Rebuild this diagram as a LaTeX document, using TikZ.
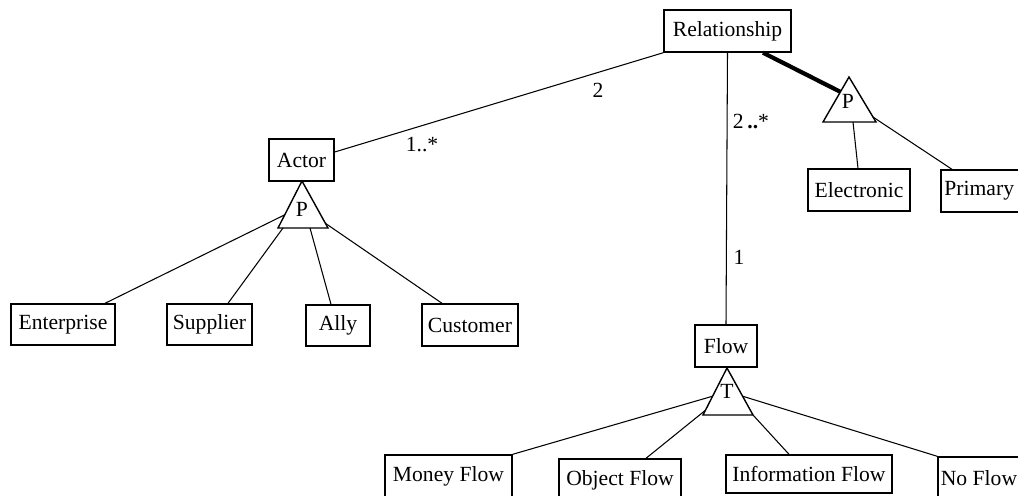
\documentclass[tikz,border=0pt]{standalone}
\usepackage{fontspec}
\setmainfont{Liberation Serif}
\usetikzlibrary{calc}
\def\pxu{0.02cm}
\tikzset{
  box/.style={draw, line width=0.8pt, inner sep=0pt, font=\fontsize{12.3}{14}\selectfont},
  link/.style={line width=0.6pt},
  strong/.style={line width=2.4pt},
  tri/.style={draw, line width=0.8pt, fill=white},
  lbl/.style={inner sep=0pt, font=\fontsize{12.3}{14}\selectfont},
}
\newcommand{\boxat}[6]{%
  \node[box, minimum width=#4*\pxu, minimum height=#5*\pxu] (#1) at (#2,#3) {#6};}
\begin{document}
\begin{tikzpicture}[x=0.02cm, y=-0.02cm]
  \useasboundingbox (0,0) rectangle (1018,495);
  \clip (0,0) rectangle (1018,495);

  % classes
  \boxat{rel}{727.5}{31}{127}{42}{Relationship}
  \boxat{actor}{301.5}{160}{65}{42}{Actor}
  \boxat{elec}{859}{190}{102}{42}{Electronic}
  \boxat{prim}{981}{191}{80}{42}{\hspace*{-2pt}Primary}
  \boxat{flow}{726}{346}{62}{42}{Flow}
  \boxat{ent}{63}{324.5}{104}{41}{Enterprise}
  \boxat{sup}{209.5}{324.5}{85}{41}{Supplier}
  \boxat{ally}{338}{325.5}{64}{41}{Ally}
  \boxat{cust}{470}{325}{96}{42}{Customer}
  \boxat{money}{448.5}{476}{127}{42}{Money Flow}
  \boxat{obj}{620}{480}{122}{42}{Object Flow}
  \boxat{info}{809}{474}{166}{38}{Information Flow}
  \boxat{noflow}{979}{478}{82}{42}{\hspace*{0pt}No Flow}

  % generalisation triangles
  \coordinate (pa) at (302,181); \coordinate (pl) at (278,228); \coordinate (pr) at (328,228);
  \coordinate (qa) at (849,77);  \coordinate (ql) at (823,122); \coordinate (qr) at (876,122);
  \coordinate (ta) at (727,368); \coordinate (tl) at (703,415); \coordinate (tr) at (753,415);

  % association lines
  \draw[link] (actor.east |- 0,152) -- (rel.south west);
  \draw[link] (rel.south) -- (flow.north);
  \draw[strong] (rel.south -| 763,0) -- ($(qa)!0.33!(ql)$);

  \draw[tri] (pa) -- (pl) -- (pr) -- cycle;
  \draw[tri] (qa) -- (ql) -- (qr) -- cycle;
  \draw[tri] (ta) -- (tl) -- (tr) -- cycle;
  \node[lbl] (pletter) at (302,209) {P};
  \node[lbl] (qletter) at (848,101) {P};
  \node[lbl] (tletter) at (727,391) {T};

  % subtype connectors
  \draw[link] ($(pa)!0.72!(pl)$) -- (ent.north -| 105,0);
  \draw[link] (283,228) -- (sup.north -| 228,0);
  \draw[link] (310,228) -- (ally.north -| 331,0);
  \draw[link] ($(pa)!0.9!(pr)$) -- (cust.north -| 442,0);

  \draw[link] (853,122) -- (elec.north -| 858,0);
  \draw[link] ($(qa)!0.89!(qr)$) -- (prim.north -| 952,0);

  \draw[link] ($(ta)!0.6!(tl)$) -- (money.north east);
  \draw[link] ($(ta)!0.9!(tl)$) -- (obj.north -| 646,0);
  \draw[link] (tr) -- (info.north -| 789,0);
  \draw[link] ($(ta)!0.6!(tr)$) -- (noflow.north west);

  % multiplicities
  \node[lbl] (m1) at (598,90) {2};
  \node[lbl] (m2) at (422,145) {1..*};
  \node[lbl] (m3) at (751,121) {2\,\textbf{..}*};
  \node[lbl] (m4) at (739,257) {1};
\end{tikzpicture}
\end{document}
